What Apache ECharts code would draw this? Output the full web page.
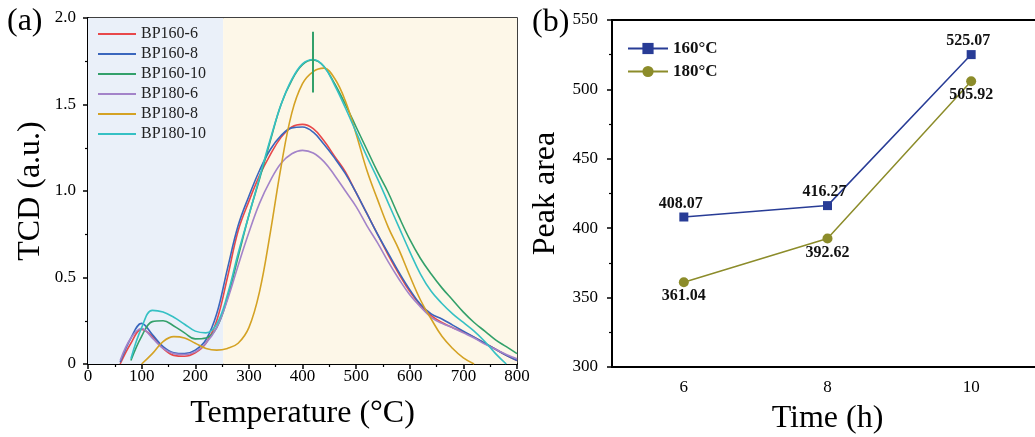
<!DOCTYPE html>
<html>
<head>
<meta charset="utf-8">
<script src="https://cdn.jsdelivr.net/npm/echarts@6/dist/echarts.min.js"></script>
<style>
  html, body { margin: 0; padding: 0; background: #fff; }
  #main { width: 1035px; height: 437px; }
</style>
</head>
<body>
<div id="main"></div>
<script>
// temperatures (°C) shared by all TPD curves
var temps = [60, 80, 100, 120, 140, 160, 180, 200, 220, 240, 260, 280, 300, 320, 340, 360, 380, 400, 420, 440,
             460, 480, 500, 520, 540, 560, 580, 600, 620, 640, 660, 680, 700, 720, 740, 760, 780, 800];

var bp160_6 = [0, 0.12, 0.20, 0.16, 0.09, 0.05, 0.045, 0.065, 0.12, 0.25, 0.50, 0.77, 0.94, 1.09, 1.21, 1.31, 1.37, 1.385, 1.36, 1.29,
               1.20, 1.11, 0.99, 0.87, 0.75, 0.63, 0.52, 0.42, 0.34, 0.28, 0.24, 0.21, 0.185, 0.155, 0.12, 0.085, 0.05, 0.02];
var bp160_8 = [0.01, 0.15, 0.235, 0.17, 0.10, 0.065, 0.06, 0.08, 0.14, 0.29, 0.55, 0.80, 0.97, 1.12, 1.24, 1.32, 1.365, 1.37, 1.34, 1.27,
               1.19, 1.10, 0.99, 0.87, 0.75, 0.64, 0.53, 0.43, 0.345, 0.29, 0.26, 0.225, 0.19, 0.155, 0.12, 0.085, 0.05, 0.02];
var bp160_10 = [null, 0.02, 0.16, 0.245, 0.25, 0.22, 0.18, 0.145, 0.15, 0.21, 0.38, 0.62, 0.86, 1.07, 1.29, 1.50, 1.64, 1.73, 1.757, 1.72,
                1.62, 1.50, 1.37, 1.24, 1.11, 0.99, 0.85, 0.72, 0.61, 0.52, 0.44, 0.37, 0.30, 0.24, 0.19, 0.14, 0.10, 0.06];
var bp180_6 = [0.02, 0.15, 0.205, 0.15, 0.09, 0.06, 0.055, 0.07, 0.12, 0.21, 0.37, 0.57, 0.76, 0.93, 1.06, 1.16, 1.215, 1.235, 1.22, 1.17,
               1.09, 1.0, 0.91, 0.80, 0.70, 0.59, 0.49, 0.40, 0.33, 0.27, 0.235, 0.21, 0.18, 0.15, 0.115, 0.085, 0.055, 0.03];
var bp180_8 = [null, null, 0, 0.06, 0.13, 0.158, 0.15, 0.12, 0.09, 0.08, 0.09, 0.12, 0.21, 0.42, 0.76, 1.14, 1.45, 1.62, 1.69, 1.71,
               1.65, 1.52, 1.33, 1.12, 0.95, 0.79, 0.66, 0.51, 0.37, 0.26, 0.16, 0.09, 0.035, 0, null, null, null, null];
var bp180_10 = [null, 0.03, 0.21, 0.31, 0.30, 0.27, 0.23, 0.19, 0.18, 0.23, 0.40, 0.64, 0.86, 1.08, 1.30, 1.50, 1.645, 1.735, 1.76, 1.72,
                1.61, 1.48, 1.34, 1.20, 1.07, 0.93, 0.79, 0.65, 0.52, 0.42, 0.35, 0.29, 0.24, 0.19, 0.13, 0.06, 0, null];

var curveNames = ['BP160-6', 'BP160-8', 'BP160-10', 'BP180-6', 'BP180-8', 'BP180-10'];
var curveColors = ['#e8484a', '#3a66bd', '#33a06a', '#a383c9', '#d4a224', '#35c0c4'];

// peak area vs. time
var times = [6, 8, 10];
var area160 = [408.07, 416.27, 525.07];
var area180 = [361.04, 392.62, 505.92];

var serif = '"Liberation Serif", "Times New Roman", serif';

function pairs(ys) {
    return temps.map(function (t, i) { return [t, ys[i]]; });
}

var curves = [bp160_6, bp160_8, bp160_10, bp180_6, bp180_8, bp180_10];

var series = [];
// background regions (weak / medium-strong acid sites)
series.push({
    type: 'line', xAxisIndex: 0, yAxisIndex: 0, data: [], silent: true,
    markArea: {
        silent: true,
        data: [
            [{ xAxis: 0, itemStyle: { color: '#eaf0f9' } }, { xAxis: 252 }],
            [{ xAxis: 252, itemStyle: { color: '#fdf7e8' } }, { xAxis: 800 }]
        ]
    }
});
curves.forEach(function (c, i) {
    var s = {
        name: curveNames[i],
        type: 'line',
        xAxisIndex: 0, yAxisIndex: 0,
        data: pairs(c),
        smooth: 0.4,
        symbol: 'none',
        lineStyle: { width: 1.6, color: curveColors[i] },
        itemStyle: { color: curveColors[i] }
    };
    if (curveNames[i] === 'BP160-10') {
        s.markLine = {
            silent: true, symbol: 'none', label: { show: false },
            lineStyle: { color: '#33a06a', width: 2, type: 'solid' },
            data: [[{ coord: [420, 1.57] }, { coord: [420, 1.92] }]]
        };
    }
    series.push(s);
});

var labelStyle = { show: true, distance: 1, fontFamily: serif, fontWeight: 'bold', fontSize: 16, color: '#111',
                   formatter: function (p) { return p.value[1].toFixed(2); } };

series.push({
    name: '160°C', type: 'line', xAxisIndex: 1, yAxisIndex: 1,
    data: times.map(function (t, i) { return [t, area160[i]]; }),
    symbol: 'rect', symbolSize: 9,
    lineStyle: { width: 1.5, color: '#283c96' },
    itemStyle: { color: '#283c96' },
    label: Object.assign({}, labelStyle, { position: 'top', offset: [-3, 0] })
});
series.push({
    name: '180°C', type: 'line', xAxisIndex: 1, yAxisIndex: 1,
    data: times.map(function (t, i) { return [t, area180[i]]; }),
    symbol: 'circle', symbolSize: 10,
    lineStyle: { width: 1.5, color: '#8c8c2a' },
    itemStyle: { color: '#8c8c2a' },
    label: Object.assign({}, labelStyle, { position: 'bottom' })
});

var axisCommon = {
    nameLocation: 'middle',
    nameTextStyle: { fontFamily: serif, fontSize: 32, color: '#000' },
    axisLine: { show: true, onZero: false, lineStyle: { color: '#000', width: 2 } },
    axisTick: { show: true, length: 5, lineStyle: { color: '#000', width: 1.5 } },
    minorTick: { show: true, splitNumber: 2, length: 3, lineStyle: { color: '#000', width: 1.2 } },
    axisLabel: { fontFamily: serif, fontSize: 17, color: '#000' },
    splitLine: { show: false }
};

var option = {
    animation: false,
    backgroundColor: '#fff',
    grid: [
        { left: 88, right: 518, top: 18, bottom: 73, show: true, borderColor: '#000', borderWidth: 1.5,
          backgroundColor: 'transparent', outerBoundsMode: 'none' },
        { left: 612, right: -8, top: 20, bottom: 70, show: true, borderColor: '#000', borderWidth: 2,
          backgroundColor: 'transparent', outerBoundsMode: 'none' }
    ],
    legend: [
        {
            data: curveNames, orient: 'vertical', left: 93, top: 21,
            icon: 'rect', itemWidth: 38, itemHeight: 2, itemGap: 4,
            textStyle: { fontFamily: serif, fontSize: 16, color: '#222' }
        },
        {
            data: ['160°C', '180°C'], orient: 'vertical', left: 622, top: 35,
            itemWidth: 40, itemHeight: 14, itemGap: 6,
            textStyle: { fontFamily: serif, fontSize: 17, fontWeight: 'bold', color: '#111' }
        }
    ],
    xAxis: [
        Object.assign({}, axisCommon, {
            gridIndex: 0, type: 'value', min: 0, max: 800, interval: 100,
            name: 'Temperature (°C)', nameGap: 34,
            axisLabel: Object.assign({}, axisCommon.axisLabel, { margin: 4 })
        }),
        Object.assign({}, axisCommon, {
            gridIndex: 1, type: 'value', min: 5, max: 11, interval: 1,
            name: 'Time (h)', nameGap: 36,
            axisTick: { show: false },
            minorTick: { show: false },
            axisLabel: Object.assign({}, axisCommon.axisLabel, {
                margin: 12,
                formatter: function (v) { return (v % 2 === 0 && v < 11) ? String(v) : ''; }
            })
        })
    ],
    yAxis: [
        Object.assign({}, axisCommon, {
            gridIndex: 0, type: 'value', min: 0, max: 2, interval: 0.5,
            name: 'TCD (a.u.)', nameGap: 41,
            axisLabel: Object.assign({}, axisCommon.axisLabel, {
                margin: 12,
                formatter: function (v) { return v === 0 ? '0' : v.toFixed(1); }
            })
        }),
        Object.assign({}, axisCommon, {
            gridIndex: 1, type: 'value', min: 300, max: 550, interval: 50,
            name: 'Peak area', nameGap: 50,
            axisLabel: Object.assign({}, axisCommon.axisLabel, { margin: 14 })
        })
    ],
    graphic: [
        { type: 'text', left: 7, top: 6, style: { text: '(a)', fontFamily: serif, fontSize: 32, fill: '#000' } },
        { type: 'text', left: 532, top: 7, style: { text: '(b)', fontFamily: serif, fontSize: 32, fill: '#000' } },
        { type: 'text', left: 320, top: 35, style: { text: '420°C', fontFamily: serif, fontSize: 18, fill: '#222' } },
        { type: 'text', left: 96, top: 253, style: { text: 'weak acid sites', fontFamily: serif, fontSize: 19, fill: '#333' } },
        { type: 'text', left: 341, top: 262, style: { text: '(c)', fontFamily: serif, fontSize: 30, fill: '#222' } },
        { type: 'text', left: 259, top: 307, style: { text: 'medium to strong', fontFamily: serif, fontSize: 19, fill: '#333' } },
        { type: 'text', left: 290, top: 331, style: { text: 'acid sites', fontFamily: serif, fontSize: 19, fill: '#333' } }
    ],
    series: series
};

var chart = echarts.init(document.getElementById('main'));
chart.setOption(option);
</script>
</body>
</html>
